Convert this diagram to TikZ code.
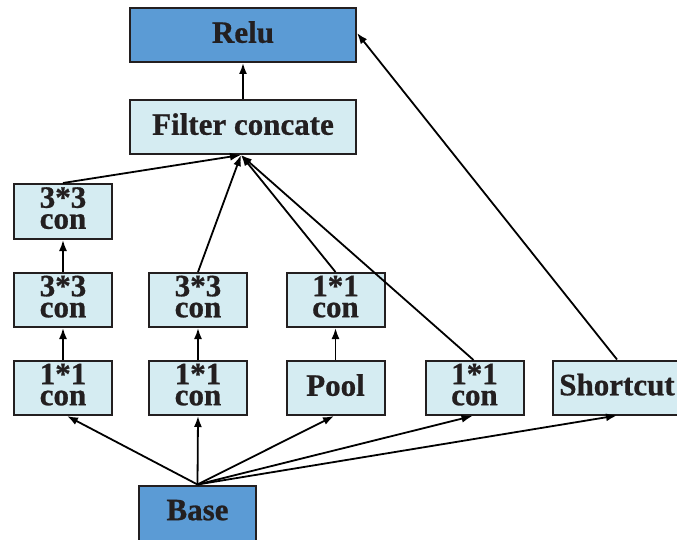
\documentclass[tikz,border=0pt]{standalone}
\usepackage{fontspec}
\setmainfont{Liberation Serif}[BoldFeatures={FakeBold=0.8}]
\usetikzlibrary{arrows.meta}
\definecolor{boxdark}{RGB}{91,155,213}
\definecolor{boxlight}{RGB}{213,236,242}
\definecolor{ink}{RGB}{35,31,32}
\begin{document}
\begin{tikzpicture}[x=1pt,y=-1pt,
  box/.style={draw=ink, line width=2pt, fill=boxlight, text=ink,
    font=\bfseries\fontsize{31}{21}\selectfont, align=center,
    inner sep=0pt, text depth=6pt, minimum width=98pt, minimum height=54pt},
  darkbox/.style={box, fill=boxdark},
  twoline/.style={text depth=7pt},
  arr/.style={draw=black, line width=1.8pt, -{Latex[length=11pt,width=8pt]}}]
\useasboundingbox (0,0) rectangle (677,540);

% output stages
\node[darkbox, minimum width=226pt] (relu) at (243,35) {Relu};
\node[box, minimum width=226pt] (fc) at (243,127) {Filter concate};

% first branch: 1*1 -> 3*3 -> 3*3
\node[box, twoline, minimum height=55pt] (a1) at (63,211.5) {3*3\\con};
\node[box, twoline] (a2) at (63,300) {3*3\\con};
\node[box, twoline] (a3) at (63,388) {1*1\\con};

% second branch: 1*1 -> 3*3
\node[box, twoline] (b2) at (198,300) {3*3\\con};
\node[box, twoline] (b3) at (198,388) {1*1\\con};

% third branch: pool -> 1*1
\node[box, twoline] (c2) at (335.5,300) {1*1\\con};
\node[box] (c3) at (335.5,388) {Pool};

% fourth branch and shortcut
\node[box, twoline] (d3) at (474.5,388) {1*1\\con};
\node[box, minimum width=128pt] (sc) at (617,387.5) {Shortcut};

% input
\node[darkbox, minimum width=117pt, minimum height=55pt] (base) at (197.5,513) {Base};

\coordinate (fcin) at ([xshift=-2pt]fc.south);

% links inside the branches
\draw[arr] (a3.north) -- (a2.south);
\draw[arr] (a2.north) -- (a1.south);
\draw[arr] (b3.north) -- (b2.south);
\draw[arr] (c3.north) -- (c2.south);

% branches into the concatenation
\draw[arr] (a1.north) -- (fcin);
\draw[arr] (b2.north) -- (fcin);
\draw[arr] (c2.north) -- (fcin);
\draw[arr] ([xshift=-1pt]d3.north) -- (fcin);
\draw[arr] (fc.north) -- (relu.south);

% shortcut into the activation
\draw[arr] (sc.north) -- ([yshift=2pt]relu.east);

% input fan-out
\draw[arr] (base.north) -- ([xshift=4pt]a3.south);
\draw[arr] (base.north) -- (b3.south);
\draw[arr] (base.north) -- ([xshift=-1.5pt]c3.south);
\draw[arr] (base.north) -- ([xshift=-2pt]d3.south);
\draw[arr] (base.north) -- (sc.south);
\end{tikzpicture}
\end{document}
